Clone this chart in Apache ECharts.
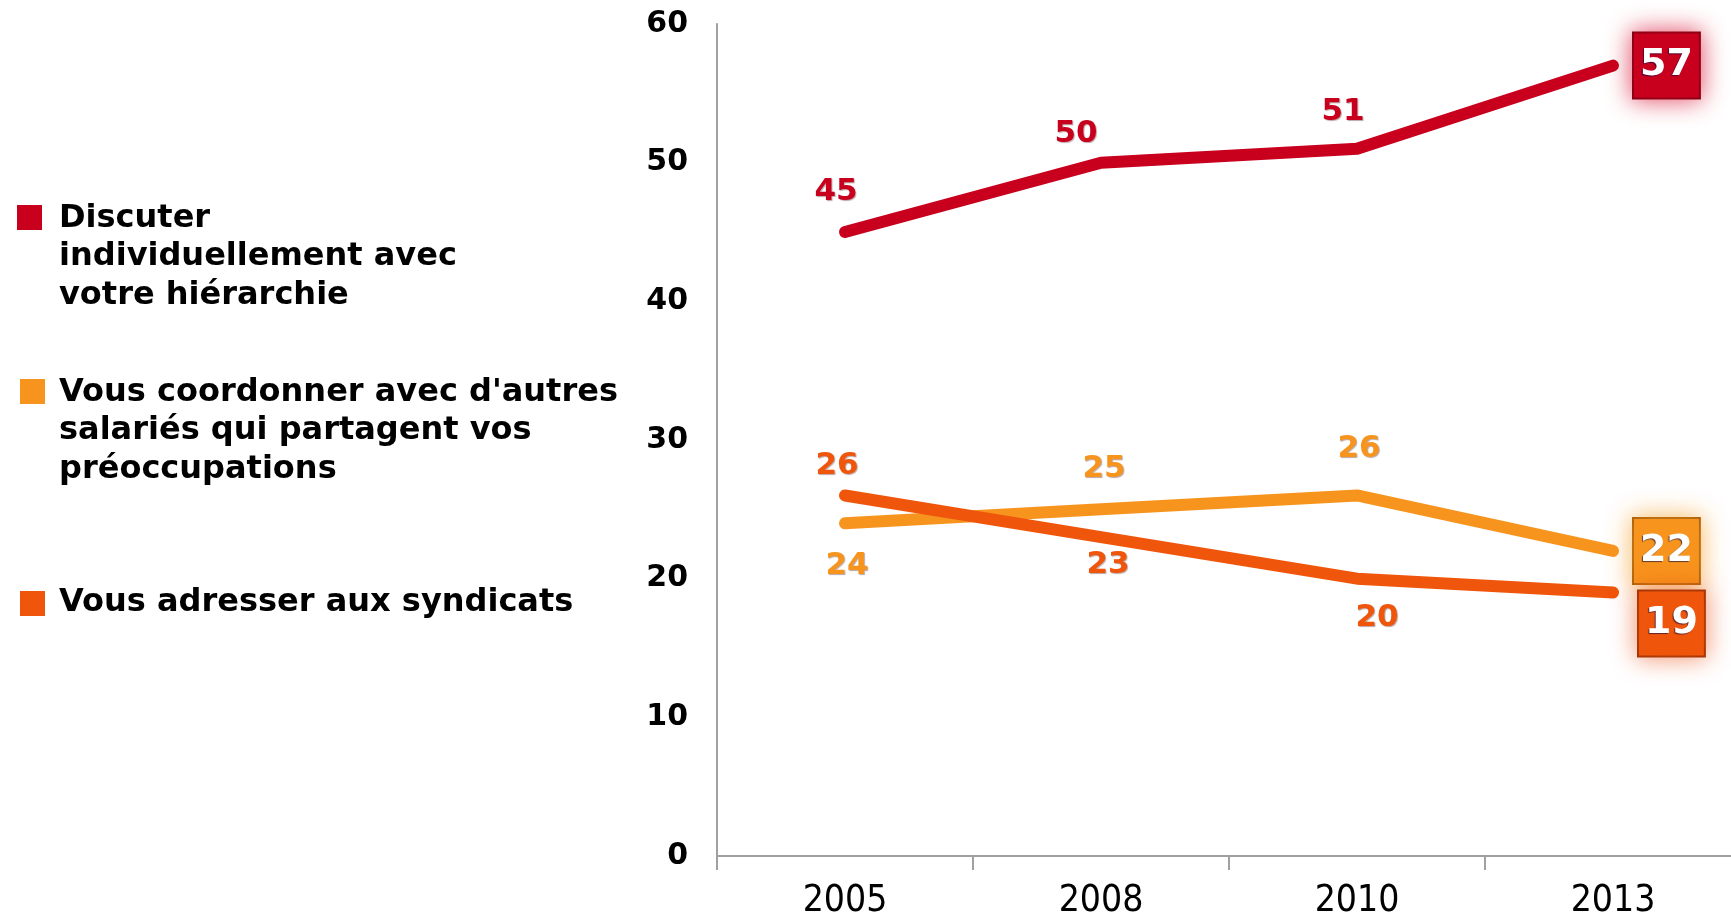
<!DOCTYPE html>
<html>
<head>
<meta charset="utf-8">
<script src="https://cdn.jsdelivr.net/npm/echarts@6/dist/echarts.min.js"></script>
<style>
  html, body { margin: 0; padding: 0; background: #fff; }
  #chart { width: 1731px; height: 915px; }
</style>
</head>
<body>
<div id="chart"></div>
<script>
// data
const years = ['2005', '2008', '2010', '2013'];
const seriesNames = [
  'Discuter\nindividuellement avec\nvotre hiérarchie',
  "Vous coordonner avec d'autres\nsalariés qui partagent vos\npréoccupations",
  'Vous adresser aux syndicats'
];
const discuter = [45, 50, 51, 57];
const coordonner = [24, 25, 26, 22];
const syndicats = [26, 23, 20, 19];
const yTicks = [0, 10, 20, 30, 40, 50, 60];

const colors = ['#c8001e', '#f7941e', '#ef560c'];
const glow = ['rgba(215,0,40,0.7)', 'rgba(247,160,40,0.7)', 'rgba(235,80,20,0.6)'];
const boxBorder = ['#7a0010', '#a55a08', '#9c3205'];

// label offsets (px, from the point) for the first three years
const offsets = [
  [[-9, -40], [-25, -29], [-14, -37]],
  [[2, 43], [3, -40], [2, -47]],
  [[-8, -30], [7, 28], [20, 39]]
];
const lastOffset = [[0, 0], [0, 0], [5, 31]];

function buildData(values, s) {
  return values.map((v, i) => {
    if (i < values.length - 1) {
      return {
        value: v,
        label: { position: 'inside', offset: offsets[s][i] }
      };
    }
    return {
      value: v,
      label: {
        position: 'right',
        distance: 20,
        offset: lastOffset[s],
        color: '#fff',
        fontSize: 38,
        backgroundColor: colors[s],
        borderColor: boxBorder[s],
        borderWidth: 2,
        padding: [14, 6, 12, 6],
        shadowColor: glow[s],
        shadowBlur: 24,
        textShadowColor: 'rgba(0,0,60,0.6)',
        textShadowBlur: 1,
        textShadowOffsetX: -1,
        textShadowOffsetY: 1
      }
    };
  });
}

const chart = echarts.init(document.getElementById('chart'));

const values = [discuter, coordonner, syndicats];
const series = values.map((vals, s) => ({
  name: seriesNames[s],
  type: 'line',
  data: buildData(vals, s),
  symbol: 'circle',
  symbolSize: 2,
  itemStyle: { color: colors[s] },
  lineStyle: { width: 12, color: colors[s], cap: 'round', join: 'round' },
  z: s === 0 ? 3 : 2,
  label: {
    show: true,
    fontFamily: 'DejaVu Sans',
    fontWeight: 'bold',
    fontSize: 31,
    color: colors[s],
    textShadowColor: 'rgba(60,0,0,0.35)',
    textShadowBlur: 1,
    textShadowOffsetX: 1,
    textShadowOffsetY: 1
  },
  emphasis: { disabled: true },
  animation: false
}));

// legend drawn as graphic, icon aligned with the first line
const legendTops = [199, 373, 583];
const squareBoxes = [[17, 205], [20, 379], [20, 591]];
const graphics = [];
seriesNames.forEach((name, i) => {
  graphics.push({
    type: 'rect',
    left: squareBoxes[i][0],
    top: squareBoxes[i][1],
    shape: { width: 25, height: 25 },
    style: { fill: colors[i] }
  });
  graphics.push({
    type: 'text',
    left: 59,
    top: legendTops[i],
    style: {
      text: name,
      fill: '#000',
      font: 'bold 32px "DejaVu Sans"',
      lineHeight: 38.5
    }
  });
});

chart.setOption({
  backgroundColor: '#fff',
  animation: false,
  grid: { left: 717, top: 24, right: -10, bottom: 59, outerBoundsMode: 'none' },
  xAxis: {
    type: 'category',
    data: years,
    boundaryGap: true,
    axisLine: { lineStyle: { color: '#a0a0a0', width: 2 } },
    axisTick: { show: true, length: 14, lineStyle: { color: '#a0a0a0', width: 2 } },
    axisLabel: {
      color: '#000',
      fontFamily: 'DejaVu Sans Condensed',
      fontSize: 37,
      margin: 27
    }
  },
  yAxis: {
    type: 'value',
    min: yTicks[0],
    max: yTicks[yTicks.length - 1],
    interval: 10,
    axisLine: { show: true, lineStyle: { color: '#a0a0a0', width: 2 } },
    axisTick: { show: false },
    splitLine: { show: false },
    axisLabel: {
      color: '#000',
      fontFamily: 'DejaVu Sans',
      fontWeight: 'bold',
      fontSize: 30,
      margin: 29
    }
  },
  graphic: graphics,
  series: series
});
</script>
</body>
</html>
